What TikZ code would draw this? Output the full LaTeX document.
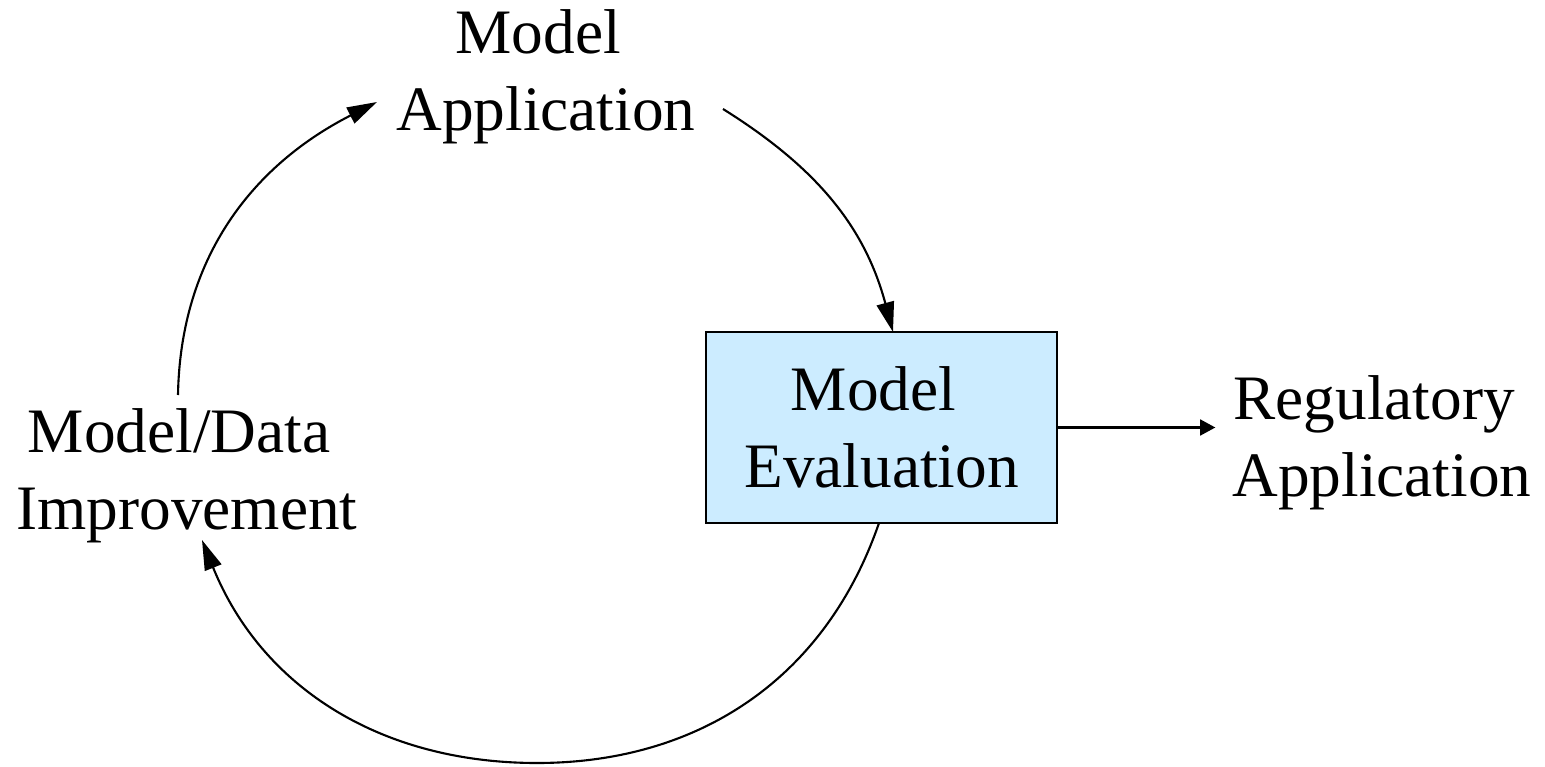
\documentclass[tikz,border=0pt]{standalone}
\usepackage{fontspec}
\setmainfont{Liberation Serif}
\usetikzlibrary{arrows.meta}
\definecolor{evalblue}{HTML}{CCECFF}
\newcommand{\tsp}{\hspace*{.25em}}

\begin{document}
\begin{tikzpicture}[x=0.01cm,y=0.01cm,>={Triangle[length=8.5pt,width=5pt]},line width=0.6pt,
        every node/.style={font=\fontsize{18pt}{21.9pt}\selectfont,align=center},
        label/.style={inner sep=1pt},
        stage/.style={draw,fill=evalblue,minimum width=3.51cm,minimum height=1.91cm}]

        \useasboundingbox (0,0) rectangle (1545,766);

        \node[label]    (app)   at (546,689)        {Model\tsp\\Application};
        \node[stage]    (eval)  at (881.5,338.5)    {Model\tsp\\Evaluation};
        \node[label]    (reg)   at (1382,323.5)     {Regulatory\tsp\\Application};
        \node[label]    (impr)  at (187,290.5)      {Model/Data\tsp\\Improvement};

        \coordinate (appR)  at (723,657);
        \coordinate (evalT) at (893,434);
        \coordinate (evalB) at (879,243);
        \coordinate (bot)   at (537,3);
        \coordinate (imprB) at (202,226);
        \coordinate (imprT) at (178,371);
        \coordinate (appL)  at (377,664);

        \draw[->] (appR) to[out=-32,in=105] (evalT);
        \draw[->] (evalB) to[out=-109,in=0] (bot) to[out=180,in=-68] (imprB);
        \draw[->] (imprT) to[out=89,in=207] (appL);
        \draw[-{Triangle[length=4.3pt,width=4.5pt]},shorten >=3.6pt] (eval.east) -- (eval.east -| reg.west);

        \end{tikzpicture}
\end{document}
